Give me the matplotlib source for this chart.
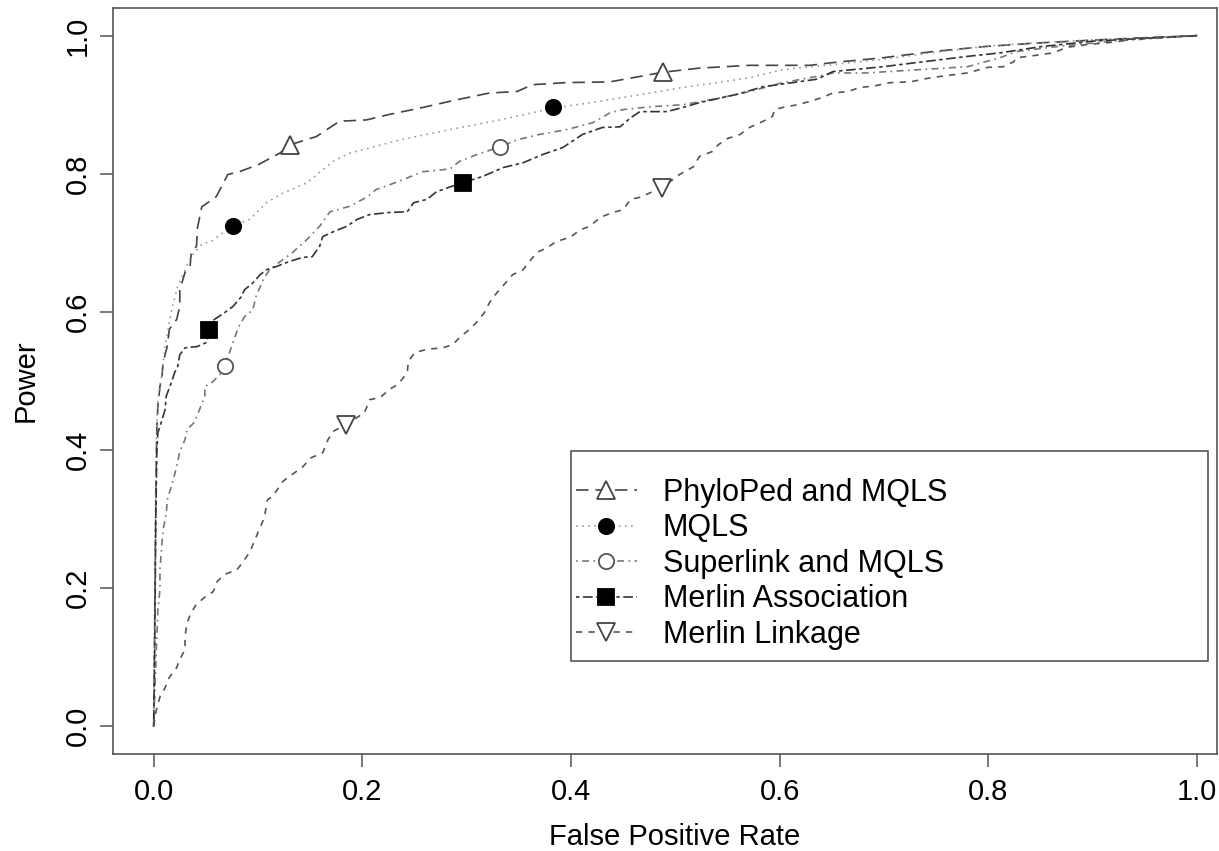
import matplotlib
matplotlib.use('Agg')
import matplotlib.pyplot as plt
from matplotlib.lines import Line2D
from matplotlib.patches import Rectangle

plt.rcParams['font.family'] = ['Liberation Sans', 'DejaVu Sans']
plt.rcParams['lines.scale_dashes'] = False

# ROC curves (false positive rate, power)
phyloped_fpr = [0, 0.001, 0.002, 0.003, 0.004, 0.006, 0.008, 0.009, 0.013, 0.015, 0.022, 0.025, 0.025,
                0.03, 0.035, 0.036, 0.041, 0.042, 0.046, 0.06, 0.071, 0.082, 0.1, 0.121, 0.131, 0.156,
                0.178, 0.204, 0.226, 0.258, 0.29, 0.322, 0.348, 0.363, 0.396, 0.437, 0.459, 0.488, 0.523,
                0.571, 0.629, 0.651, 0.699, 0.747, 0.795, 0.843, 0.907, 0.95, 1.0]
phyloped_pow = [0, 0.15, 0.32, 0.434, 0.463, 0.492, 0.507, 0.527, 0.55, 0.575, 0.589, 0.608, 0.632,
                0.657, 0.668, 0.686, 0.695, 0.722, 0.752, 0.767, 0.799, 0.803, 0.813, 0.83, 0.842, 0.854,
                0.876, 0.878, 0.886, 0.896, 0.907, 0.917, 0.919, 0.929, 0.932, 0.933, 0.939, 0.947, 0.953,
                0.957, 0.957, 0.961, 0.968, 0.977, 0.984, 0.989, 0.994, 0.997, 1.0]

mqls_fpr = [0, 0.001, 0.002, 0.003, 0.004, 0.008, 0.011, 0.015, 0.018, 0.023, 0.03, 0.036, 0.046, 0.056,
            0.07, 0.076, 0.092, 0.108, 0.124, 0.147, 0.159, 0.172, 0.188, 0.236, 0.284, 0.332, 0.383,
            0.428, 0.476, 0.507, 0.54, 0.571, 0.603, 0.65, 0.7, 0.75, 0.8, 0.85, 0.9, 1.0]
mqls_pow = [0, 0.2, 0.36, 0.434, 0.473, 0.512, 0.55, 0.585, 0.608, 0.637, 0.661, 0.68, 0.698, 0.703,
            0.719, 0.725, 0.734, 0.758, 0.772, 0.787, 0.802, 0.818, 0.83, 0.849, 0.864, 0.878, 0.895,
            0.905, 0.917, 0.925, 0.932, 0.939, 0.951, 0.958, 0.966, 0.976, 0.985, 0.99, 0.994, 1.0]

superlink_fpr = [0, 0.002, 0.004, 0.006, 0.006, 0.008, 0.009, 0.012, 0.013, 0.018, 0.022, 0.025, 0.03,
                 0.032, 0.039, 0.044, 0.049, 0.049, 0.056, 0.065, 0.068, 0.076, 0.081, 0.087, 0.095,
                 0.098, 0.105, 0.111, 0.124, 0.133, 0.147, 0.159, 0.169, 0.188, 0.204, 0.213, 0.226,
                 0.243, 0.258, 0.284, 0.293, 0.31, 0.332, 0.348, 0.37, 0.396, 0.421, 0.437, 0.45, 0.476,
                 0.507, 0.54, 0.571, 0.603, 0.636, 0.651, 0.683, 0.715, 0.78, 0.811, 0.827, 0.87, 0.92, 1.0]
superlink_pow = [0, 0.09, 0.169, 0.198, 0.227, 0.266, 0.285, 0.307, 0.328, 0.353, 0.376, 0.398, 0.415,
                 0.43, 0.44, 0.459, 0.478, 0.492, 0.498, 0.512, 0.521, 0.556, 0.577, 0.593, 0.603,
                 0.622, 0.647, 0.661, 0.676, 0.686, 0.705, 0.724, 0.745, 0.753, 0.766, 0.777, 0.784,
                 0.794, 0.803, 0.807, 0.818, 0.828, 0.839, 0.849, 0.857, 0.864, 0.874, 0.888, 0.893, 0.897,
                 0.9, 0.909, 0.919, 0.932, 0.941, 0.946, 0.946, 0.949, 0.955, 0.968, 0.977, 0.985, 0.992, 1.0]

assoc_fpr = [0, 0.001, 0.002, 0.003, 0.004, 0.008, 0.011, 0.012, 0.017, 0.02, 0.023, 0.025, 0.03, 0.042,
             0.051, 0.053, 0.058, 0.068, 0.076, 0.084, 0.087, 0.095, 0.102, 0.108, 0.118, 0.13, 0.143,
             0.152, 0.159, 0.162, 0.172, 0.185, 0.195, 0.207, 0.226, 0.243, 0.249, 0.262, 0.271, 0.284,
             0.296, 0.315, 0.335, 0.354, 0.373, 0.392, 0.411, 0.43, 0.447, 0.457, 0.466, 0.492, 0.507,
             0.523, 0.559, 0.584, 0.636, 0.651, 0.699, 0.731, 0.78, 0.811, 0.85, 0.9, 1.0]
assoc_pow = [0, 0.12, 0.3, 0.4, 0.425, 0.444, 0.459, 0.478, 0.498, 0.512, 0.521, 0.538, 0.548, 0.55,
             0.556, 0.573, 0.589, 0.599, 0.608, 0.622, 0.632, 0.642, 0.654, 0.661, 0.666, 0.673, 0.679,
             0.68, 0.695, 0.709, 0.716, 0.724, 0.734, 0.741, 0.744, 0.745, 0.758, 0.763, 0.774, 0.781,
             0.787, 0.796, 0.809, 0.816, 0.828, 0.838, 0.857, 0.867, 0.868, 0.881, 0.89, 0.89, 0.896,
             0.903, 0.915, 0.926, 0.937, 0.948, 0.955, 0.961, 0.97, 0.975, 0.984, 0.992, 1.0]

linkage_fpr = [0, 0.002, 0.006, 0.011, 0.015, 0.022, 0.025, 0.03, 0.03, 0.032, 0.036, 0.041, 0.049, 0.057,
               0.061, 0.068, 0.08, 0.085, 0.092, 0.1, 0.106, 0.109, 0.114, 0.124, 0.133, 0.143, 0.151,
               0.162, 0.167, 0.172, 0.184, 0.202, 0.207, 0.217, 0.226, 0.234, 0.243, 0.244, 0.25, 0.262,
               0.277, 0.287, 0.293, 0.303, 0.31, 0.317, 0.322, 0.329, 0.336, 0.344, 0.354, 0.359, 0.367,
               0.377, 0.386, 0.399, 0.409, 0.418, 0.428, 0.44, 0.45, 0.457, 0.466, 0.478, 0.488, 0.504,
               0.517, 0.523, 0.535, 0.541, 0.55, 0.562, 0.571, 0.584, 0.593, 0.595, 0.603, 0.617, 0.627,
               0.64, 0.651, 0.665, 0.677, 0.69, 0.706, 0.725, 0.741, 0.754, 0.78, 0.799, 0.814, 0.824,
               0.827, 0.843, 0.862, 0.875, 0.894, 0.923, 0.939, 1.0]
linkage_pow = [0, 0.02, 0.043, 0.056, 0.071, 0.085, 0.097, 0.111, 0.13, 0.15, 0.165, 0.177, 0.187, 0.195,
               0.21, 0.22, 0.227, 0.237, 0.252, 0.281, 0.302, 0.328, 0.333, 0.355, 0.365, 0.376, 0.389,
               0.396, 0.415, 0.427, 0.437, 0.454, 0.473, 0.476, 0.488, 0.495, 0.512, 0.528, 0.541, 0.546,
               0.548, 0.553, 0.563, 0.575, 0.586, 0.599, 0.614, 0.628, 0.64, 0.654, 0.661, 0.671, 0.686,
               0.693, 0.702, 0.708, 0.719, 0.724, 0.737, 0.744, 0.748, 0.763, 0.766, 0.774, 0.781, 0.799,
               0.81, 0.825, 0.832, 0.842, 0.851, 0.857, 0.867, 0.876, 0.883, 0.893, 0.896, 0.9, 0.904,
               0.91, 0.917, 0.919, 0.925, 0.927, 0.932, 0.933, 0.938, 0.941, 0.946, 0.954, 0.955, 0.962,
               0.968, 0.971, 0.975, 0.983, 0.987, 0.991, 0.996, 1.0]

# the two plotted symbols on each curve
phyloped_mx, phyloped_my = [0.131, 0.488], [0.842, 0.948]
mqls_mx, mqls_my = [0.076, 0.383], [0.725, 0.896]
superlink_mx, superlink_my = [0.068, 0.332], [0.521, 0.839]
assoc_mx, assoc_my = [0.053, 0.296], [0.574, 0.787]
linkage_mx, linkage_my = [0.184, 0.487], [0.436, 0.78]

labels = ['PhyloPed and MQLS', 'MQLS', 'Superlink and MQLS', 'Merlin Association', 'Merlin Linkage']

series = [
    (phyloped_fpr, phyloped_pow, phyloped_mx, phyloped_my,
     dict(color='#444444', ls=(0, (9, 5))), dict(marker='^', mfc='white', mec='#444444', ms=13)),
    (mqls_fpr, mqls_pow, mqls_mx, mqls_my,
     dict(color='#999999', ls=(0, (1.2, 3.2))), dict(marker='o', mfc='black', mec='black', ms=11)),
    (superlink_fpr, superlink_pow, superlink_mx, superlink_my,
     dict(color='#777777', ls=(0, (1.2, 3.2, 5, 3.2))), dict(marker='o', mfc='white', mec='#555555', ms=11)),
    (assoc_fpr, assoc_pow, assoc_mx, assoc_my,
     dict(color='#333333', ls=(0, (2.5, 2.5, 7, 2.5))), dict(marker='s', mfc='black', mec='black', ms=11)),
    (linkage_fpr, linkage_pow, linkage_mx, linkage_my,
     dict(color='#555555', ls=(0, (4.5, 4.5))), dict(marker='v', mfc='white', mec='#444444', ms=13)),
]

fig = plt.figure(figsize=(12.19, 8.51), dpi=100)
ax = fig.add_axes([113 / 1219, 97 / 851, 1104 / 1219, 746 / 851])

handles = []
for (x, y, mx, my, lstyle, mstyle), lab in zip(series, labels):
    ax.plot(x, y, lw=1.2, **lstyle)
    ax.plot(mx, my, ls='none', mew=1.3, zorder=3, **mstyle)
    handles.append(Line2D([], [], lw=1.2, mew=1.3, **lstyle, **mstyle))

ax.set_xlim(-0.039, 1.019)
ax.set_ylim(-0.04, 1.04)
ticks = [0.0, 0.2, 0.4, 0.6, 0.8, 1.0]
ax.set_xticks(ticks)
ax.set_yticks(ticks)
ax.set_xticklabels(['%.1f' % t for t in ticks])
ax.set_yticklabels(['%.1f' % t for t in ticks], rotation=90, va='center')
ax.tick_params(length=9.5, width=1.1, color='#555555', labelsize=21, pad=8)
ax.tick_params(axis='y', pad=6)
for s in ax.spines.values():
    s.set_color('#555555')
    s.set_linewidth(1.2)

ax.set_xlabel('False Positive Rate', fontsize=21)
ax.set_ylabel('Power', fontsize=21)
ax.xaxis.set_label_coords((675 - 113) / 1104, (754 - 823) / 746)
ax.yaxis.set_label_coords((40 - 113) / 1104, 0.5)

# legend box drawn by hand to get R's wide frame
ax.add_patch(Rectangle((0.4149, 0.1247), 0.5769, 0.2815, transform=ax.transAxes,
                       fill=True, facecolor='white', edgecolor='#555555', lw=1.2, zorder=4))
leg = ax.legend(handles, labels, loc='upper left', bbox_to_anchor=(0.419, 0.370),
                frameon=False, fontsize=22, borderpad=0, borderaxespad=0,
                handlelength=2.0, handletextpad=0.85, labelspacing=0.18)
leg.set_zorder(5)

fig.savefig('out.png', dpi=100)
